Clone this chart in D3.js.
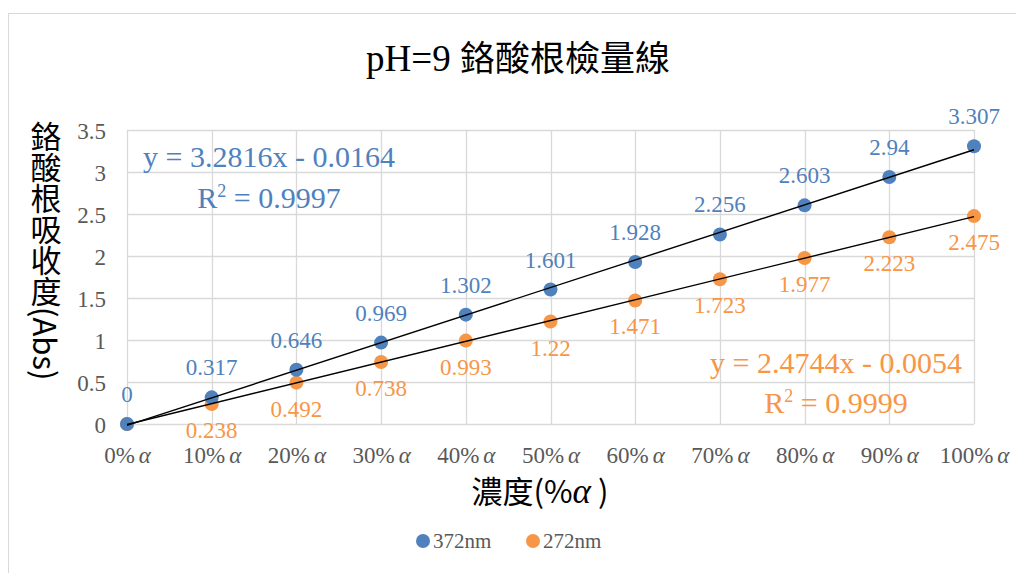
<!DOCTYPE html>
<html>
<head>
<meta charset="utf-8">
<script src="https://cdn.jsdelivr.net/npm/d3@7"></script>
<style>
  html, body { margin: 0; padding: 0; background: #fff; }
  svg { display: block; }
  .num { font-family: "Liberation Serif", "DejaVu Serif", serif; }
  .cjk { font-family: "Noto Sans CJK TC", "Noto Sans CJK SC", sans-serif; }
</style>
</head>
<body>
<svg id="chart" width="1016" height="573"></svg>
<script>
// Concentration categories (fraction of α) and absorbance readings
const concentrations = [0, 0.1, 0.2, 0.3, 0.4, 0.5, 0.6, 0.7, 0.8, 0.9, 1.0];
const xTickLabels = ["0%", "10%", "20%", "30%", "40%", "50%", "60%", "70%", "80%", "90%", "100%"];
const abs372 = [0, 0.317, 0.646, 0.969, 1.302, 1.601, 1.928, 2.256, 2.603, 2.94, 3.307];
const abs272 = [0, 0.238, 0.492, 0.738, 0.993, 1.22, 1.471, 1.723, 1.977, 2.223, 2.475];
const yTicks = [0, 0.5, 1, 1.5, 2, 2.5, 3, 3.5];
const seriesNames = ["372nm", "272nm"];
const seriesColors = ["#4F81BD", "#F79646"];
// Linear fits: [slope, intercept, R²]
const fit372 = [3.2816, -0.0164, 0.9997];
const fit272 = [2.4744, -0.0054, 0.9999];

const svg = d3.select("#chart");

// Outer chart frame
svg.append("rect")
  .attr("x", 8.5).attr("y", 13.5)
  .attr("width", 1020).attr("height", 600)
  .attr("fill", "#fff").attr("stroke", "#d9d9d9").attr("stroke-width", 1);

const x = d3.scaleLinear().domain([0, 1]).range([127, 974]);
const y = d3.scaleLinear().domain([0, 3.5]).range([424, 130]);

// Gridlines
const grid = svg.append("g");
grid.selectAll("line.h").data(yTicks).join("line")
  .attr("x1", x(0)).attr("x2", x(1))
  .attr("y1", d => Math.round(y(d)) + 0.5).attr("y2", d => Math.round(y(d)) + 0.5)
  .attr("stroke", "#d9d9d9").attr("stroke-width", 1.3);
grid.selectAll("line.v").data(concentrations).join("line")
  .attr("x1", d => Math.round(x(d)) + 0.5).attr("x2", d => Math.round(x(d)) + 0.5)
  .attr("y1", y(3.5)).attr("y2", y(0))
  .attr("stroke", "#d9d9d9").attr("stroke-width", 1.3);

// Y axis tick labels
const yAxis = d3.axisLeft(y).tickValues(yTicks).tickSize(0).tickPadding(0)
  .tickFormat(d3.format("~g"));
svg.append("g").attr("transform", "translate(106,0)").call(yAxis)
  .call(g => g.select(".domain").remove())
  .selectAll("text")
  .attr("class", "num")
  .attr("font-size", 23).attr("fill", "#595959")
  .attr("dy", "0.35em");

// X axis tick labels: percentage followed by italic α
const xAxis = d3.axisBottom(x).tickValues(concentrations).tickSize(0).tickPadding(0)
  .tickFormat("");
const xg = svg.append("g").attr("transform", `translate(0,${y(0)})`).call(xAxis);
xg.select(".domain").remove();
xg.selectAll(".tick").each(function(d, i) {
  const t = d3.select(this).append("text")
    .attr("class", "num")
    .attr("y", 39).attr("text-anchor", "middle")
    .attr("font-size", 23).attr("fill", "#595959");
  t.append("tspan").text(xTickLabels[i]);
  t.append("tspan").attr("font-style", "italic").attr("dx", 4).text("α");
});

// Markers (orange under blue)
const series = [abs372, abs272];
[1, 0].forEach(si => {
  svg.append("g").selectAll("circle").data(series[si]).join("circle")
    .attr("cx", (d, i) => x(concentrations[i]))
    .attr("cy", d => y(d))
    .attr("r", 7)
    .attr("fill", seriesColors[si]);
});

// Trendlines drawn over the markers
[fit372, fit272].forEach(f => {
  svg.append("line")
    .attr("x1", x(0)).attr("y1", y(f[1]))
    .attr("x2", x(1)).attr("y2", y(f[0] + f[1]))
    .attr("stroke", "#000").attr("stroke-width", 1.4);
});

// Data labels: 372nm above, 272nm below
svg.append("g").selectAll("text").data(abs372).join("text")
  .attr("class", "num")
  .attr("x", (d, i) => x(concentrations[i]))
  .attr("y", d => y(d) - 22)
  .attr("text-anchor", "middle")
  .attr("font-size", 23).attr("fill", seriesColors[0])
  .text(d => d3.format("~g")(d));
svg.append("g").selectAll("text").data(abs272.slice(1)).join("text")
  .attr("class", "num")
  .attr("x", (d, i) => x(concentrations[i + 1]))
  .attr("y", d => y(d) + 34)
  .attr("text-anchor", "middle")
  .attr("font-size", 23).attr("fill", seriesColors[1])
  .text(d => d3.format("~g")(d));

// Trendline equations
function eqText(f) {
  const sign = f[1] < 0 ? " - " : " + ";
  return "y = " + f[0].toFixed(4) + "x" + sign + Math.abs(f[1]).toFixed(4);
}
function drawEq(f, color, cx, y1, y2) {
  svg.append("text").attr("class", "num")
    .attr("x", cx).attr("y", y1).attr("text-anchor", "middle")
    .attr("font-size", 30).attr("fill", color).text(eqText(f));
  const r = svg.append("text").attr("class", "num")
    .attr("x", cx).attr("y", y2).attr("text-anchor", "middle")
    .attr("font-size", 30).attr("fill", color);
  r.append("tspan").text("R");
  r.append("tspan").attr("font-size", 18).attr("dy", -11).text("2");
  r.append("tspan").attr("dy", 11).text(" = " + f[2].toFixed(4));
}
drawEq(fit372, seriesColors[0], 269, 167, 208);
drawEq(fit272, seriesColors[1], 836, 373, 413);

// Title
svg.append("text")
  .attr("x", 518).attr("y", 71).attr("text-anchor", "middle")
  .attr("font-size", 37).attr("fill", "#000")
  .call(t => {
    t.append("tspan").attr("class", "num").text("pH=9 ");
    t.append("tspan").attr("class", "cjk").attr("font-size", 35).text("鉻酸根檢量線");
  });

// Y axis title, vertical writing
svg.append("text")
  .attr("class", "cjk")
  .attr("x", 46).attr("y", 121)
  .attr("font-size", 31).attr("fill", "#000")
  .style("writing-mode", "vertical-rl")
  .text("鉻酸根吸收度(Abs)");

// X axis title
const xt = svg.append("text")
  .attr("x", 540).attr("y", 503).attr("text-anchor", "middle")
  .attr("font-size", 31).attr("fill", "#000");
xt.append("tspan").attr("class", "cjk").text("濃度(%");
xt.append("tspan").attr("class", "num").attr("font-style", "italic").attr("font-size", 35).text("α");
xt.append("tspan").attr("class", "cjk").text(" )");

// Legend
const legend = svg.append("g");
const legendX = [423, 533];
seriesNames.forEach((name, i) => {
  legend.append("circle").attr("cx", legendX[i]).attr("cy", 541).attr("r", 7)
    .attr("fill", seriesColors[i]);
  legend.append("text").attr("class", "num")
    .attr("x", legendX[i] + 10).attr("y", 548)
    .attr("font-size", 21).attr("fill", "#595959").text(name);
});
</script>
</body>
</html>
